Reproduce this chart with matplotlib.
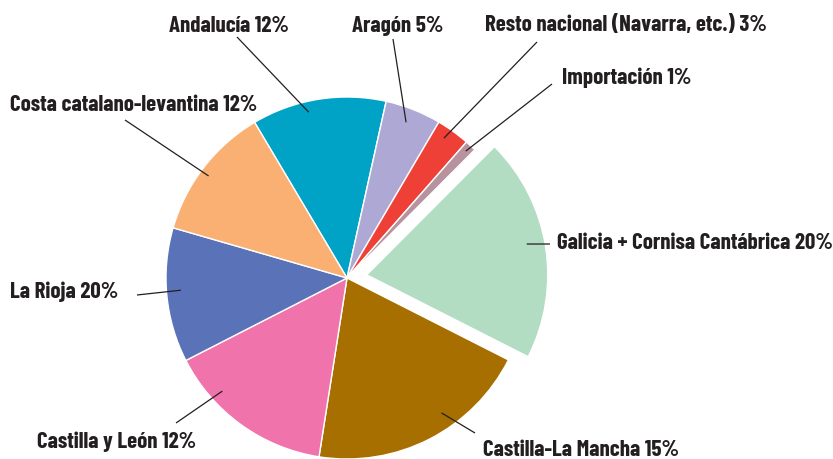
import numpy as np
import matplotlib
matplotlib.use("Agg")
import matplotlib.pyplot as plt

# slice sizes as drawn (percent), clockwise from Andalucía
regions = ["Andalucía", "Aragón", "Resto nacional (Navarra, etc.)", "Importación",
           "Galicia + Cornisa Cantábrica", "Castilla-La Mancha", "Castilla y León",
           "La Rioja", "Costa catalano-levantina"]
values = [12, 5, 3, 1, 20, 20, 15, 12, 12]
# percentages as printed in the labels
label_pct = [12, 5, 3, 1, 20, 15, 12, 20, 12]
colors = ["#00A2C6", "#AEA9D4", "#EE4036", "#B7939F", "#B3DDC3",
          "#A76E00", "#F073AB", "#5A72B7", "#FAB072"]

W, H = 833, 460
R = 181
# pie explode offset is in data units (pixels here)
explode = [0, 0, 0, 0, 20, 0, 0, 0, 0]

# label layout in image pixels: text (left, baseline), leader outer end,
# leader inner end as (fraction across wedge, fraction of radius)
text_pos = [(169, 31.5), (352, 31.5), (485, 31), (562, 84), (557, 249),
            (483, 456.5), (37, 448), (10, 298), (10, 111)]
line_out = [(237, 38), (393, 40), (537, 43), (552, 85), (550, 245),
            (475, 434), (176, 424), (137, 296), (125, 121)]
line_in = [(0.59, 0.94), (0.54, 0.92), (0.61, 0.94), (0.5, 0.96), (0.525, 0.9),
           (0.61, 0.91), (0.28, 0.93), (0.47, 0.92), (0.53, 0.95)]

font = ["Barlow Condensed", "Barlow Semi Condensed", "DejaVu Sans"]
txt_color = "#231F20"

fig = plt.figure(figsize=(W / 100, H / 100), dpi=100)
ax = fig.add_axes([0, 0, 1, 1])

wedges, _ = ax.pie(values, colors=colors, explode=explode, startangle=120.7,
                   counterclock=False, center=(347, H - 279), radius=R,
                   wedgeprops=dict(edgecolor="white", linewidth=1.0))
ax.set_xlim(0, W)
ax.set_ylim(0, H)
ax.set_aspect("equal")
ax.axis("off")

def img(p):
    return p[0], H - p[1]

for i, w in enumerate(wedges):
    fa, fr = line_in[i]
    ang = np.deg2rad(w.theta1 + fa * (w.theta2 - w.theta1))
    cx, cy = w.center
    px = cx + fr * w.r * np.cos(ang)
    py = cy + fr * w.r * np.sin(ang)
    ox, oy = img(line_out[i])
    ax.plot([px, ox], [py, oy], color=txt_color, lw=0.9, solid_capstyle="butt")
    tx, ty = img(text_pos[i])
    ax.text(tx, ty, f"{regions[i]} {label_pct[i]}%", ha="left", va="baseline",
            fontsize=16.5, fontweight="bold", family=font, color=txt_color)

fig.savefig("out.png", dpi=100)
